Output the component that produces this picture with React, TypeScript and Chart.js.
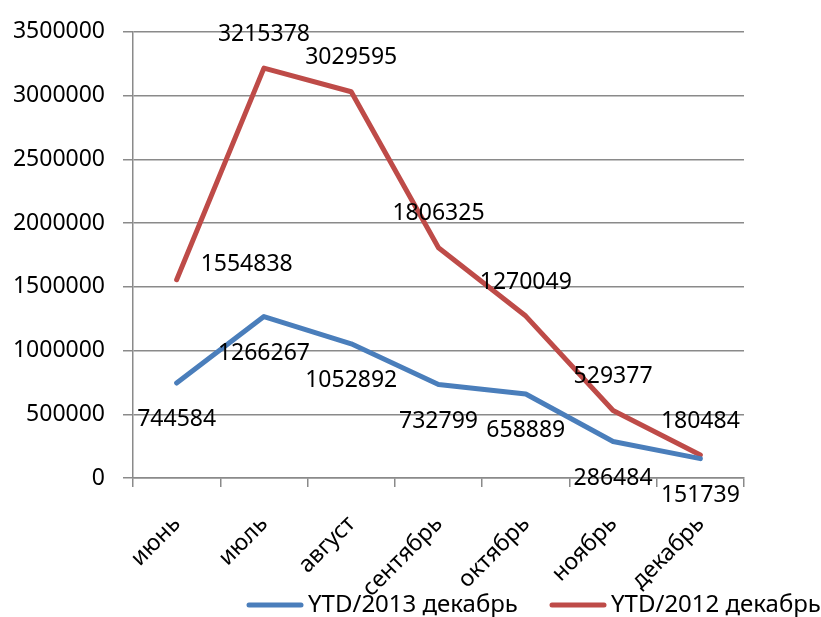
import React, { useEffect, useRef } from 'react';
import { Chart, registerables } from 'chart.js';

Chart.register(...registerables);

const months = ['июнь', 'июль', 'август', 'сентябрь', 'октябрь', 'ноябрь', 'декабрь'];
const ytd2013 = [744584, 1266267, 1052892, 732799, 658889, 286484, 151739];
const ytd2012 = [1554838, 3215378, 3029595, 1806325, 1270049, 529377, 180484];
const seriesNames = ['YTD/2013 декабрь', 'YTD/2012 декабрь'];
const yMin = 0;
const yMax = 3500000;
const yStep = 500000;

const FAMILY = '"Noto Sans", "Open Sans", sans-serif';
const FONT_SIZE = 23;
const LEGEND_FONT_SIZE = 24;
const BLUE = '#4a7ebb';
const RED = '#be4b48';
const GRID = '#8a8a8a';

// label placement (style only)
const labelOffsets = [
  months.map(() => ({ dx: 0, dy: 36.5, align: 'center' as CanvasTextAlign })),
  months.map((_, j) =>
    j === 0
      ? { dx: 24, dy: -15, align: 'left' as CanvasTextAlign }
      : { dx: 0, dy: -34, align: 'center' as CanvasTextAlign }
  ),
];

const valueLabels = {
  id: 'valueLabels',
  afterDatasetsDraw(chart: any) {
    const ctx = chart.ctx;
    ctx.save();
    ctx.font = `${FONT_SIZE}px ${FAMILY}`;
    ctx.fillStyle = '#000';
    ctx.textBaseline = 'middle';
    chart.data.datasets.forEach((ds: any, i: number) => {
      const meta = chart.getDatasetMeta(i);
      meta.data.forEach((pt: any, j: number) => {
        const o = labelOffsets[i][j];
        ctx.textAlign = o.align;
        ctx.fillText(String(ds.data[j]), pt.x + o.dx, pt.y + o.dy);
      });
    });
    ctx.restore();
  },
};

// rotated category labels, positioned from the x scale's tick pixels
const rotatedXLabels = {
  id: 'rotatedXLabels',
  afterDraw(chart: any) {
    const ctx = chart.ctx;
    const xs = chart.scales.x;
    ctx.save();
    ctx.font = `${FONT_SIZE}px ${FAMILY}`;
    ctx.fillStyle = '#000';
    ctx.textAlign = 'right';
    ctx.textBaseline = 'alphabetic';
    (chart.data.labels as string[]).forEach((lab, i) => {
      const px = xs.getPixelForTick(i);
      ctx.save();
      ctx.translate(px + 5, xs.top + 47);
      ctx.rotate(-Math.PI / 4);
      ctx.fillText(lab, 0, 0);
      ctx.restore();
    });
    ctx.restore();
  },
};

const legendStarts = [247, 550];
const customLegend = {
  id: 'customLegend',
  afterDraw(chart: any) {
    const ctx = chart.ctx;
    ctx.save();
    ctx.font = `${LEGEND_FONT_SIZE}px ${FAMILY}`;
    ctx.fillStyle = '#000';
    ctx.textBaseline = 'alphabetic';
    ctx.textAlign = 'left';
    chart.data.datasets.forEach((ds: any, i: number) => {
      const x = legendStarts[i];
      ctx.strokeStyle = ds.borderColor;
      ctx.lineWidth = 5;
      ctx.lineCap = 'round';
      ctx.beginPath();
      ctx.moveTo(x + 2, 605);
      ctx.lineTo(x + 54, 605);
      ctx.stroke();
      ctx.fillText(ds.label, x + 61, 612);
    });
    ctx.restore();
  },
};

export default function App() {
  const ref = useRef<HTMLCanvasElement | null>(null);
  useEffect(() => {
    if (!ref.current) return;
    const chart = new Chart(ref.current, {
      type: 'line',
      data: {
        labels: months,
        datasets: [
          {
            label: seriesNames[0],
            data: ytd2013,
            borderColor: BLUE,
            backgroundColor: BLUE,
            borderWidth: 5,
            pointRadius: 0,
            tension: 0,
            borderCapStyle: 'round',
            borderJoinStyle: 'round',
          },
          {
            label: seriesNames[1],
            data: ytd2012,
            borderColor: RED,
            backgroundColor: RED,
            borderWidth: 5,
            pointRadius: 0,
            tension: 0,
            borderCapStyle: 'round',
            borderJoinStyle: 'round',
          },
        ],
      },
      options: {
        responsive: false,
        animation: false,
        layout: { padding: { top: 28, left: 0, right: 0, bottom: 0 } },
        plugins: {
          legend: { display: false },
          tooltip: { enabled: false },
        },
        scales: {
          x: {
            type: 'category',
            offset: true,
            grid: {
              display: true,
              drawOnChartArea: false,
              drawTicks: true,
              tickLength: 9,
              color: GRID,
              lineWidth: 1.5,
              offset: true,
            },
            border: { display: true, color: GRID, width: 1.5 },
            ticks: { display: false, autoSkip: false },
            afterFit: (s: any) => {
              s.height = 139;
            },
          },
          y: {
            type: 'linear',
            min: yMin,
            max: yMax,
            ticks: {
              stepSize: yStep,
              font: { size: FONT_SIZE, family: FAMILY },
              color: '#000',
              padding: 18,
              callback: (v: any) => String(v),
            },
            grid: { color: GRID, lineWidth: 1.5, tickLength: 10, drawTicks: true },
            border: { display: true, color: GRID, width: 1.5 },
            afterFit: (s: any) => {
              s.width = 133;
            },
          },
          yR: {
            type: 'linear',
            position: 'right',
            display: true,
            grid: { display: false, drawTicks: false },
            ticks: { display: false },
            border: { display: false },
            afterFit: (s: any) => {
              s.width = 77;
            },
          },
        },
      },
      plugins: [valueLabels, rotatedXLabels, customLegend],
    });
    return () => chart.destroy();
  }, []);
  return (
    <div style={{ position: 'absolute', left: 0, top: 0, width: 821, height: 617, background: '#fff' }}>
      <canvas ref={ref} width={821} height={617} style={{ display: 'block' }} />
    </div>
  );
}
